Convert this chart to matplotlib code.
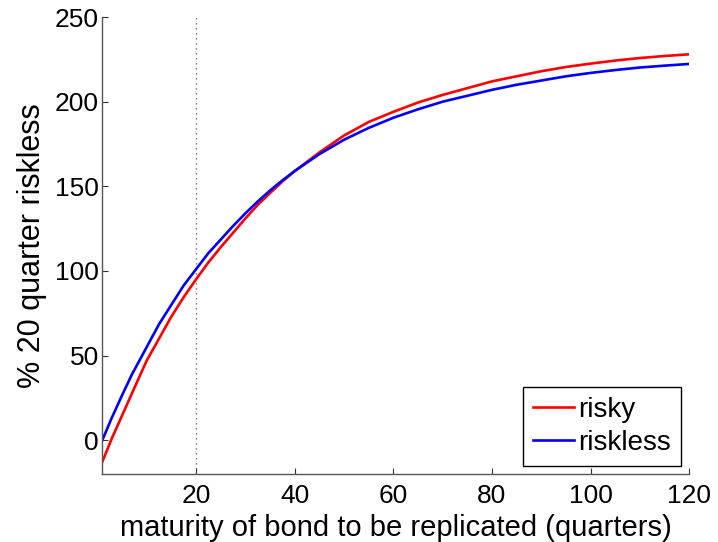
import matplotlib
matplotlib.use("Agg")
import matplotlib.pyplot as plt

plt.rcParams['font.family'] = ['Liberation Sans', 'DejaVu Sans']

quarters = [1, 3, 5, 7, 10, 12.5, 15, 17.5, 20, 22.5, 25, 27.5, 30, 32.5, 35,
            37.5, 40, 45, 50, 55, 60, 65, 70, 75, 80, 85, 90, 95, 100, 105,
            110, 115, 120]
risky = [-12.8, 1.5, 14.5, 27.6, 47, 60, 73, 84.5, 95, 105, 114, 122.5, 131,
         139, 146, 152.8, 159, 170, 180, 188, 194, 199.5, 204, 208, 212, 215,
         218, 220.5, 222.5, 224.3, 225.8, 227, 228]
riskless = [0, 13.7, 26.5, 38.8, 55, 68.5, 80, 91.4, 101, 110.5, 118.5, 126.5,
            134, 141, 147.5, 153.5, 159, 169, 177.5, 184.5, 190.5, 195.5, 200,
            203.5, 207, 210, 212.5, 215, 217, 218.7, 220.2, 221.3, 222.3]
x_ticks = [20, 40, 60, 80, 100, 120]
y_ticks = [0, 50, 100, 150, 200, 250]
marker_q = 20

fig = plt.figure(figsize=(7.18, 5.42), dpi=100)
ax = fig.add_axes([0.1425, 0.1255, 0.8175, 0.843])

ax.axvline(marker_q, color='#555555', linestyle=(0, (1, 3)), linewidth=0.9)
ax.plot(quarters, risky, color='#ff0000', linewidth=1.9, label='risky')
ax.plot(quarters, riskless, color='#0000ff', linewidth=1.9, label='riskless')

ax.set_xlim(1, 120)
ax.set_ylim(-20, 250)
ax.set_xticks(x_ticks)
ax.set_yticks(y_ticks)
ax.tick_params(direction='in', length=4.5, width=0.8, labelsize=19,
               color='#333333')
ax.tick_params(axis='y', pad=2.5)
ax.tick_params(axis='x', pad=7.5)
for side in ['top', 'right']:
    ax.spines[side].set_visible(False)
for side in ['left', 'bottom']:
    ax.spines[side].set_color('#555555')
    ax.spines[side].set_linewidth(1.0)

ax.set_xlabel('maturity of bond to be replicated (quarters)', fontsize=21,
              labelpad=4)
ax.set_ylabel('% 20 quarter riskless', fontsize=22, labelpad=6)

leg = ax.legend(loc='lower right', fontsize=20, frameon=True, fancybox=False,
                edgecolor='black', handlelength=1.5, handletextpad=0.15,
                borderpad=0.35, labelspacing=0.25, borderaxespad=0.3)
leg.get_frame().set_linewidth(1.0)
leg.get_frame().set_alpha(1)

fig.savefig('out.png', dpi=100)
